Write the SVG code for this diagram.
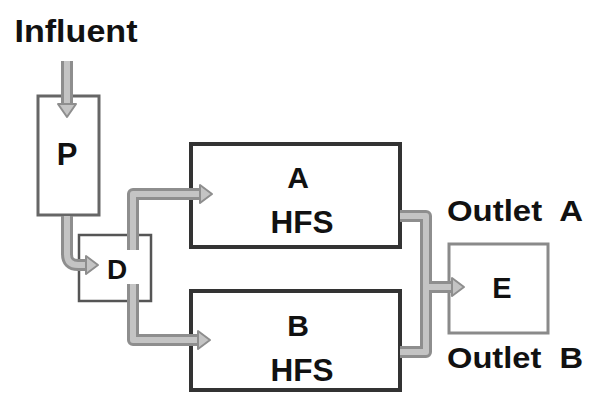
<svg xmlns="http://www.w3.org/2000/svg" width="590" height="393" viewBox="0 0 590 393">
<style>
.lbl{font-family:"Liberation Sans",Arial,sans-serif;font-weight:bold;fill:#111;text-anchor:middle}
.pipeO{fill:none;stroke:#8e8e8e;stroke-width:12;stroke-linejoin:round}
.pipeI{fill:none;stroke:#c4c4c4;stroke-width:6;stroke-linejoin:round}
.head{fill:#c4c4c4;stroke:#8e8e8e;stroke-width:2;stroke-linejoin:round}
.tank{fill:#fff;stroke:#333;stroke-width:4}
</style>
<rect width="590" height="393" fill="#fff"/>
<g id="node-P">
<rect x="38" y="96" width="61" height="119" fill="#fff" stroke="#666" stroke-width="3"/>
<text class="lbl" x="67" y="165" font-size="31">P</text>
</g>
<g id="node-D">
<rect x="79" y="235" width="72" height="66" fill="#fff" stroke="#555" stroke-width="2.5"/>
<text class="lbl" x="117" y="279" font-size="28">D</text>
</g>
<g id="node-A">
<rect class="tank" x="191" y="144" width="209" height="103"/>
<text class="lbl" x="298" y="188" font-size="30">A</text>
<text class="lbl" x="302" y="233" font-size="31" textLength="63" lengthAdjust="spacingAndGlyphs">HFS</text>
</g>
<g id="node-B">
<rect class="tank" x="191" y="291" width="209" height="99"/>
<text class="lbl" x="298" y="336" font-size="30">B</text>
<text class="lbl" x="302" y="381" font-size="31" textLength="63" lengthAdjust="spacingAndGlyphs">HFS</text>
</g>
<g id="node-E">
<rect x="449" y="244" width="99" height="89" fill="#fff" stroke="#8a8a8a" stroke-width="3"/>
<text class="lbl" x="502" y="298" font-size="29">E</text>
</g>
<g id="labels">
<text class="lbl" x="76" y="42" font-size="32" textLength="123" lengthAdjust="spacingAndGlyphs">Influent</text>
<text class="lbl" x="515" y="221" font-size="30" textLength="136" lengthAdjust="spacingAndGlyphs" xml:space="preserve">Outlet  A</text>
<text class="lbl" x="515" y="368" font-size="30" textLength="136" lengthAdjust="spacingAndGlyphs" xml:space="preserve">Outlet  B</text>
</g>
<g id="connectors">
<path class="pipeO" d="M67,61 L67,104"/>
<path class="pipeI" d="M67,61 L67,104"/>
<polygon class="head" points="58,104 76,104 67,117"/>
<path class="pipeO" d="M67,216 L67,254 Q67,265 78,265 L86,265"/>
<path class="pipeI" d="M67,216 L67,254 Q67,265 78,265 L86,265"/>
<polygon class="head" points="86,256 86,274 98,265"/>
<path class="pipeO" d="M133,250 L133,194 L200,194"/>
<path class="pipeI" d="M133,250 L133,194 L200,194"/>
<polygon class="head" points="200,185 200,203 212,194"/>
<path class="pipeO" d="M133,284 L133,340 L198,340"/>
<path class="pipeI" d="M133,284 L133,340 L198,340"/>
<polygon class="head" points="198,331 198,349 210,340"/>
<path class="pipeO" d="M400,216 L426,216 L426,352 L400,352 M426,287 L452,287"/>
<path class="pipeI" d="M400,216 L426,216 L426,352 L400,352 M426,287 L452,287"/>
<polygon class="head" points="452,278 452,296 464,287"/>
</g>
</svg>
